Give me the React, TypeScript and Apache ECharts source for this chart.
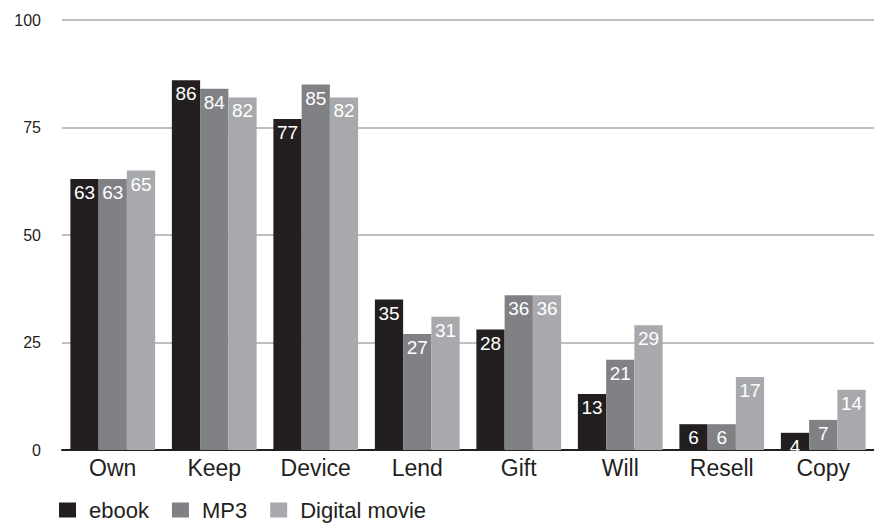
import React, { useEffect, useRef } from "react";
import * as echarts from "echarts";

const categories = ["Own", "Keep", "Device", "Lend", "Gift", "Will", "Resell", "Copy"];
const ebook = [63, 86, 77, 35, 28, 13, 6, 4];
const mp3 = [63, 84, 85, 27, 36, 21, 6, 7];
const movie = [65, 82, 82, 31, 36, 29, 17, 14];
const seriesNames = ["ebook", "MP3", "Digital movie"];
const colors = ["#231f20", "#808184", "#a7a9ac"];
const yTicks = [0, 25, 50, 75, 100];

const FONT = "'Liberation Sans', Arial, Helvetica, sans-serif";

export default function App() {
  const ref = useRef<HTMLDivElement>(null);
  useEffect(() => {
    if (!ref.current) return;
    const chart = echarts.init(ref.current, null, { renderer: "svg" });
    const data = [ebook, mp3, movie];
    chart.setOption({
      animation: false,
      backgroundColor: "#ffffff",
      textStyle: { fontFamily: FONT },
      grid: { left: 62, right: -6, top: 20, bottom: 73, containLabel: false },
      legend: {
        left: 54,
        top: 494,
        itemWidth: 17,
        itemHeight: 15,
        itemGap: 23,
        icon: "rect",
        data: seriesNames,
        textStyle: {
          fontSize: 22,
          lineHeight: 22,
          color: "#231f20",
          fontFamily: FONT,
          padding: [0, 0, 0, 8],
        },
      },
      xAxis: {
        type: "category",
        data: categories,
        axisLine: { show: true, lineStyle: { color: "#231f20", width: 2 } },
        axisTick: { show: false },
        axisLabel: { fontSize: 23, color: "#231f20", margin: 6, fontFamily: FONT },
      },
      yAxis: {
        type: "value",
        min: yTicks[0],
        max: yTicks[yTicks.length - 1],
        interval: 25,
        axisLine: { show: false },
        axisTick: { show: false },
        axisLabel: { fontSize: 16, color: "#231f20", margin: 21, fontFamily: FONT },
        splitLine: {
          show: true,
          lineStyle: { color: "#aaaaaa", width: 1.5 },
        },
      },
      series: seriesNames.map((name, i) => ({
        name,
        type: "bar",
        data: data[i],
        barGap: "0%",
        barCategoryGap: "16.5%",
        itemStyle: { color: colors[i] },
        label: {
          show: true,
          position: "insideTop",
          distance: 4,
          color: "#ffffff",
          fontSize: 19,
          fontFamily: FONT,
        },
      })),
    });
    return () => chart.dispose();
  }, []);
  return (
    <div
      ref={ref}
      style={{ position: "absolute", left: 0, top: 0, width: 874, height: 523 }}
    />
  );
}
